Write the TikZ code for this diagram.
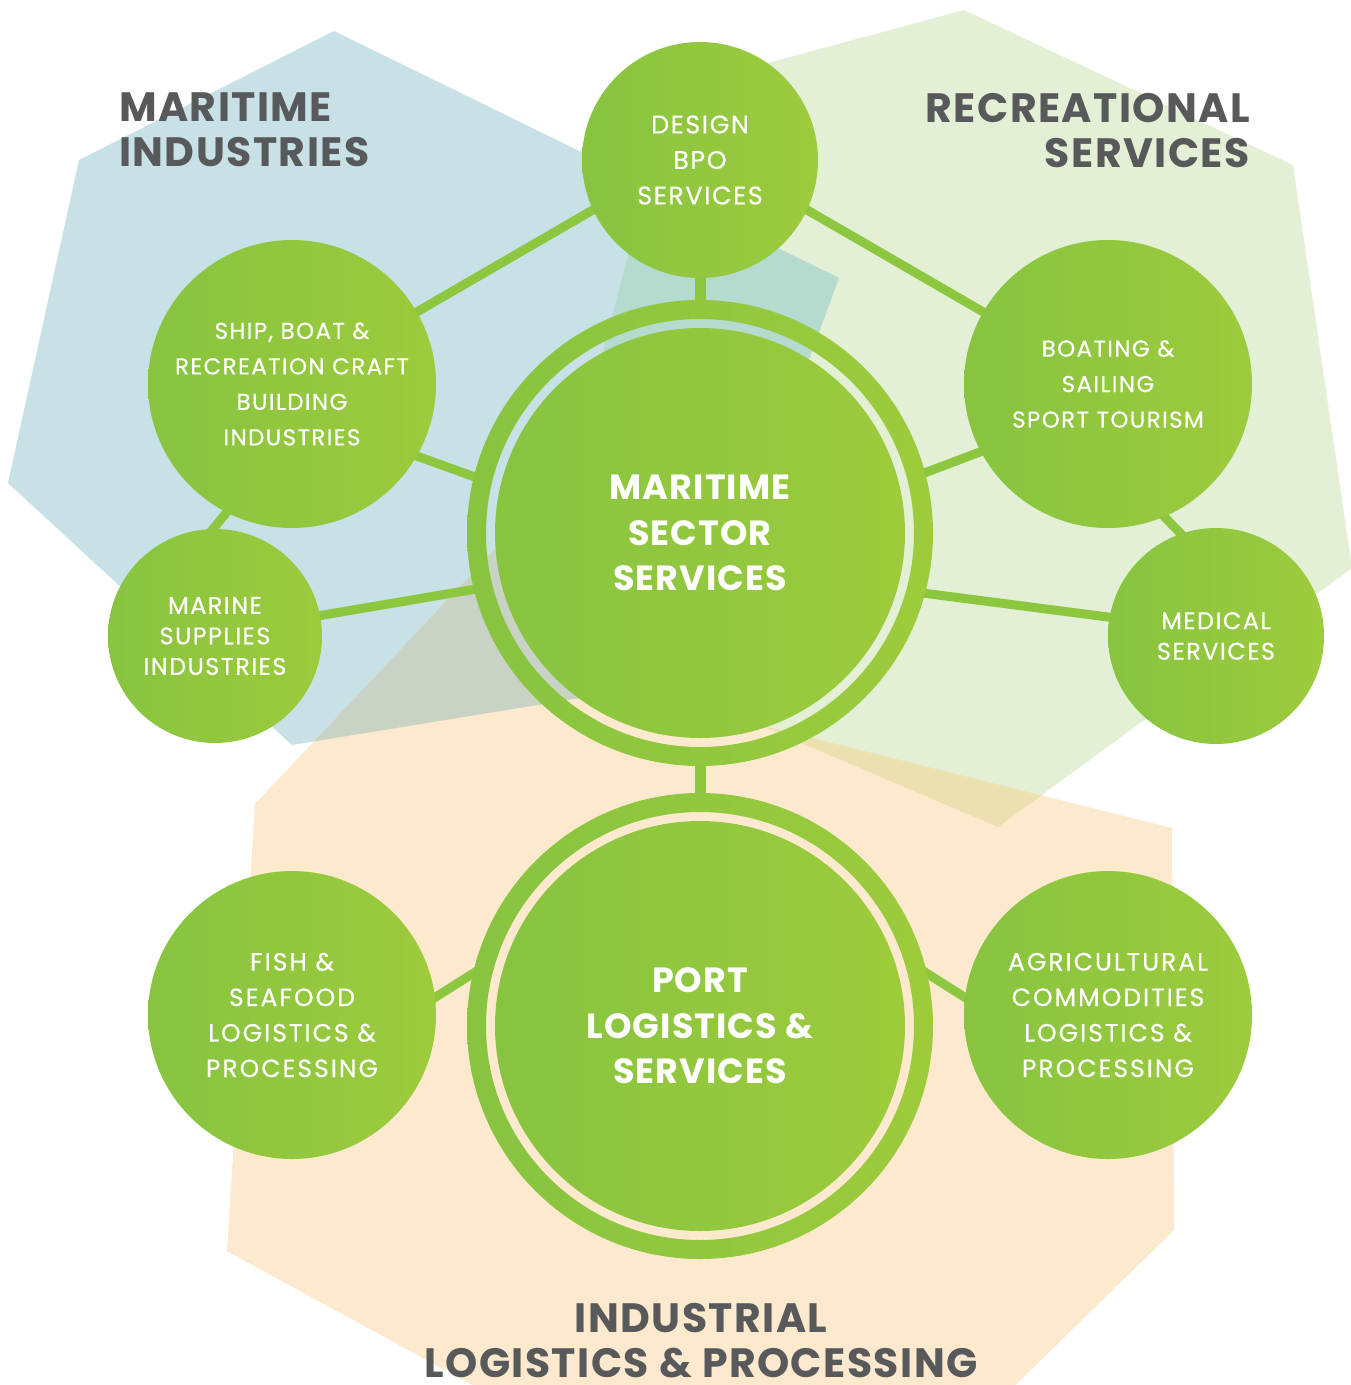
\documentclass[tikz,border=0pt]{standalone}
\usepackage{fontspec}
\setmainfont{Poppins}
\newfontfamily\labfontA{Poppins}[LetterSpace=6, FakeBold=0.5]
\newfontfamily\labfontB{Poppins}[LetterSpace=8, FakeBold=0.5]
\newfontfamily\bigfont{Poppins}[LetterSpace=3]
\newfontfamily\titlefont{Poppins}[LetterSpace=3.5]
\definecolor{blueP}{RGB}{199,225,230}
\definecolor{greenP}{RGB}{227,240,213}
\definecolor{orangeP}{RGB}{253,233,205}
\definecolor{tealP}{RGB}{181,218,206}
\definecolor{grayP}{RGB}{201,211,197}
\definecolor{tanP}{RGB}{236,224,177}
\definecolor{gL}{RGB}{135,196,64}
\definecolor{gR}{RGB}{157,203,60}
\definecolor{connC}{RGB}{141,198,63}
\definecolor{titleC}{RGB}{88,89,91}
\pgfdeclarelayer{back}
\pgfdeclarelayer{mid}
\pgfsetlayers{back,mid,main}
\tikzset{
  bub/.style={circle, inner sep=0pt, left color=gL, right color=gR, text=white, align=center},
  ringnode/.style={circle, inner sep=0pt, minimum size=466pt},
  labship/.style={font=\labfontA\fontsize{23pt}{35.5pt}\selectfont},
  labdesign/.style={font=\labfontA\fontsize{25.5pt}{35.5pt}\selectfont},
  labsmall/.style={font=\labfontA\fontsize{24pt}{30.5pt}\selectfont},
  labfish/.style={font=\labfontB\fontsize{25pt}{35.5pt}\selectfont},
  biglab/.style={font=\bigfont\bfseries\fontsize{35pt}{45.5pt}\selectfont},
  titlelab/.style={font=\titlefont\bfseries\fontsize{41pt}{45pt}\selectfont, text=titleC, inner sep=0pt},
  connector/.style={draw=connC, line width=9pt, shorten <=-8pt, shorten >=-8pt},
  thickconn/.style={draw=connC, line width=11pt, shorten <=-8pt, shorten >=-8pt}
}
\begin{document}
\begin{tikzpicture}[x=1pt,y=-1pt]
\useasboundingbox (0,0) rectangle (1351,1385);
\begin{pgfonlayer}{back}
\clip (0,0) rectangle (1351,1385);
\fill[white] (0,0) rectangle (1351,1385);
\fill[blueP] (334,31) -- (839,278) -- (691,680) -- (292,745) -- (8,483) -- (79,160) -- cycle;
\fill[greenP] (964,10) -- (1293,165) -- (1352,568) -- (998,827) -- (530,627) -- (672,89) -- cycle;
\fill[orangeP] (255,804) -- (560,480) -- (740,720) -- (1172,828) -- (1174,1230) -- (1000,1400) -- (500,1400) -- (227,1251) -- cycle;
\begin{scope}
  \clip (334,31) -- (839,278) -- (691,680) -- (292,745) -- (8,483) -- (79,160) -- cycle;
  \fill[tealP] (964,10) -- (1293,165) -- (1352,568) -- (998,827) -- (530,627) -- (672,89) -- cycle;
  \fill[grayP] (255,804) -- (560,480) -- (740,720) -- (1172,828) -- (1174,1230) -- (1000,1400) -- (500,1400) -- (227,1251) -- cycle;
\end{scope}
\begin{scope}
  \clip (964,10) -- (1293,165) -- (1352,568) -- (998,827) -- (530,627) -- (672,89) -- cycle;
  \fill[tanP] (255,804) -- (560,480) -- (740,720) -- (1172,828) -- (1174,1230) -- (1000,1400) -- (500,1400) -- (227,1251) -- cycle;
\end{scope}
\end{pgfonlayer}

% titles
\node[titlelab, anchor=north west, align=left] (tmi) at (119,93) {MARITIME\\INDUSTRIES};
\node[titlelab, anchor=north east, align=right] (trs) at (1250,93) {RECREATIONAL\\SERVICES};
\node[titlelab, anchor=north, align=center] (tilp) at (701,1303) {INDUSTRIAL\\LOGISTICS \& PROCESSING};

% central rings
\node[ringnode] (mssR) at (700,533) {};
\path[left color=gL, right color=gR, even odd rule] (mssR.center) circle[radius=233] circle[radius=214];
\node[bub, minimum size=410pt, biglab] (mss) at (mssR.center) {MARITIME\\SECTOR\\SERVICES};
\node[ringnode] (portR) at (700,1026) {};
\path[left color=gL, right color=gR, even odd rule] (portR.center) circle[radius=233] circle[radius=214];
\node[bub, minimum size=410pt, biglab] (port) at (portR.center) {PORT\\LOGISTICS \&\\SERVICES};

% satellites
\node[bub, minimum size=236pt, labdesign] (design) at (700,160) {DESIGN\\BPO\\SERVICES};
\node[bub, minimum size=288pt, labship] (ship) at (292,384) {SHIP, BOAT \&\\RECREATION CRAFT\\BUILDING\\INDUSTRIES};
\node[bub, minimum size=214pt, labsmall] (marine) at (215,636) {MARINE\\SUPPLIES\\INDUSTRIES};
\node[bub, minimum size=288pt, labship] (boat) at (1108,384) {BOATING \&\\SAILING\\SPORT TOURISM};
\node[bub, minimum size=216pt, labsmall] (medical) at (1216,636) {MEDICAL\\SERVICES};
\node[bub, minimum size=288pt, labfish] (fish) at (292,1015) {FISH \&\\SEAFOOD\\LOGISTICS \&\\PROCESSING};
\node[bub, minimum size=288pt, labfish] (agri) at (1108,1015) {AGRICULTURAL\\COMMODITIES\\LOGISTICS \&\\PROCESSING};

\begin{pgfonlayer}{mid}
\draw[thickconn] (design.south) -- (mssR.north);
\draw[thickconn] (mssR.south) -- (portR.north);
\draw[connector] (design.205) -- (ship.30);
\draw[connector] (design.-25) -- (boat.150);
\draw[connector] (ship.-30) -- (mssR.166);
\draw[connector] (marine.11) -- (mssR.194);
\draw[connector] (boat.208) -- (mssR.15);
\draw[connector] (medical.170) -- (mssR.-15);
\draw[connector] (ship.-117) -- (marine.91);
\draw[connector] (boat.-67) -- (medical.109);
\draw[connector] (fish.7) -- (portR.167);
\draw[connector] (agri.173) -- (portR.13);
\end{pgfonlayer}
\end{tikzpicture}
\end{document}
